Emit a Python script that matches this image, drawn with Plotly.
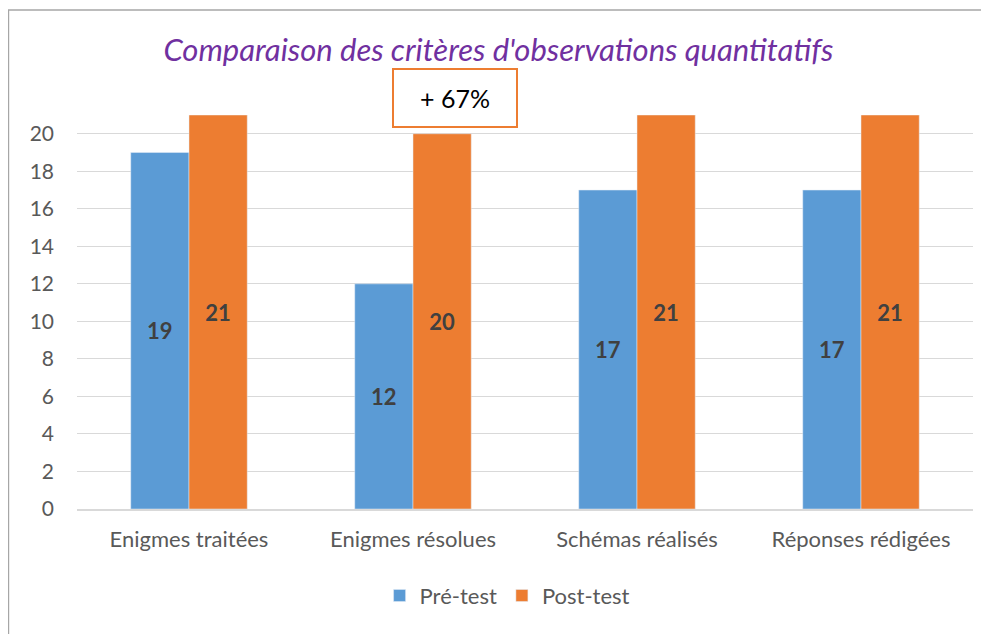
import plotly.graph_objects as go

categories = ["Enigmes traitées", "Enigmes résolues", "Schémas réalisés", "Réponses rédigées"]
pre_test = [19, 12, 17, 17]
post_test = [21, 20, 21, 21]
y_ticks = list(range(0, 21, 2))

FONT = "Lato"
LABEL_GRAY = "#595959"

fig = go.Figure()
fig.add_trace(
    go.Bar(
        x=categories, y=pre_test, name="Pré-test", marker={"color": "#5B9BD5"},
        text=pre_test, textposition="inside", insidetextanchor="middle",
        textfont={"family": FONT, "size": 22, "color": "#404040", "weight": "bold"},
    )
)
fig.add_trace(
    go.Bar(
        x=categories, y=post_test, name="Post-test", marker={"color": "#ED7D31"},
        text=post_test, textposition="inside", insidetextanchor="middle",
        textfont={"family": FONT, "size": 22, "color": "#404040", "weight": "bold"},
    )
)

# the chart frame: only left and top edges are visible
fig.add_shape(
    type="path", xref="paper", yref="paper",
    path="M -0.0765,-0.33 L -0.0765,1.2665 L 1.03,1.2665",
    line={"color": "#A6A6A6", "width": 1.5},
)

fig.add_annotation(
    text="+ 67%", xref="paper", yref="paper", x=0.4219, y=1.042,
    xanchor="center", yanchor="middle",
    showarrow=False, font={"family": FONT, "size": 25, "color": "black"},
    bgcolor="white", bordercolor="#ED7D31", borderwidth=2, width=120, height=54,
)

# page body adds an 8px margin, so the figure is sized to fit the window
fig.update_layout(
    width=981, height=626,
    margin={"l": 69, "r": 16, "t": 107, "b": 125},
    paper_bgcolor="white", plot_bgcolor="white",
    barmode="group", bargap=0.48, bargroupgap=0,
    font={"family": FONT, "color": LABEL_GRAY},
    title={
        "text": "Comparaison des critères d'observations quantitatifs",
        "x": 0.5, "xanchor": "center", "y": 1 - 42 / 626, "yanchor": "middle",
        "font": {"family": FONT, "size": 31, "color": "#7030A0", "style": "italic"},
    },
    xaxis={
        "showgrid": False, "showline": True, "linecolor": "#D9D9D9", "linewidth": 1.5,
        "tickfont": {"size": 22, "color": LABEL_GRAY}, "ticklabelstandoff": 10,
    },
    yaxis={
        "range": [0, 21], "tickvals": y_ticks, "showgrid": True, "gridcolor": "#D9D9D9",
        "gridwidth": 1.3, "zeroline": False, "tickfont": {"size": 21, "color": LABEL_GRAY},
        "ticklabelstandoff": 22,
    },
    showlegend=True,
    legend={
        "orientation": "h", "x": 0.48, "xanchor": "center", "y": -0.22, "yanchor": "middle",
        "font": {"size": 22, "color": LABEL_GRAY}, "itemwidth": 30,
    },
)

fig.write_html("out.html")
